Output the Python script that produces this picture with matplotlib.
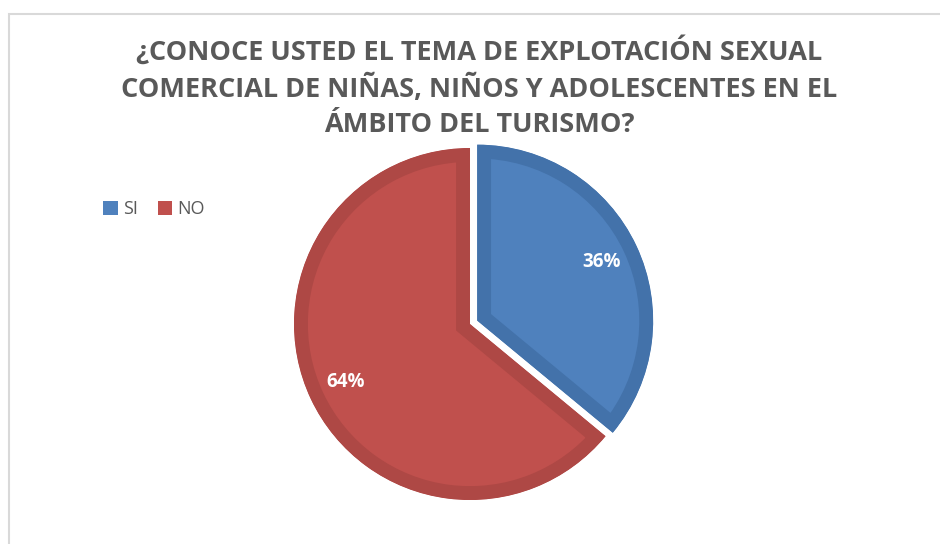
import matplotlib
matplotlib.use("Agg")
import matplotlib.pyplot as plt
from matplotlib.patches import Rectangle

categories = ["SI", "NO"]
values = [36, 64]
colors = ["#4F81BD", "#C0504D"]
edge_colors = ["#4372AA", "#AE4845"]
title = "¿CONOCE USTED EL TEMA DE EXPLOTACIÓN SEXUAL\nCOMERCIAL DE NIÑAS, NIÑOS Y ADOLESCENTES EN EL\nÁMBITO DEL TURISMO?"

W, H = 940, 544
fig = plt.figure(figsize=(W / 100, H / 100), dpi=100)
fig.patch.set_facecolor("white")

# chart border
fig.patches.append(Rectangle((8.5 / W, -0.1), 1.2, (H - 14) / H + 0.1, transform=fig.transFigure,
                             fill=False, edgecolor="#D9D9D9", linewidth=1.5))

ax = fig.add_axes([0, 0, 1, 1])
cx, cy, r = 470, H - 324, 176
wedges, texts, autotexts = ax.pie(
    values, colors=colors, startangle=90, counterclock=False,
    explode=[0.045 * r, 0], center=(cx, cy), radius=r,
    autopct=lambda p: f"{p:.0f}%", pctdistance=0.78,
    textprops=dict(color="white", fontsize=13.5, fontweight="bold", family="Open Sans"),
)
for w, ec in zip(wedges, edge_colors):
    w.set_edgecolor(ec)
    w.set_linewidth(20)
    w.set_joinstyle("miter")
    w.set_clip_on(True)
    w.set_clip_path(w)
ax.set_xlim(0, W)
ax.set_ylim(0, H)
ax.set_aspect("equal")
ax.axis("off")

fig.text(479 / W, 1 - 36 / H, title, ha="center", va="top", fontsize=19.5, fontweight="bold",
         family="Open Sans", color="#595959", linespacing=1.42)

leg = fig.legend(wedges, categories, loc="center left", bbox_to_anchor=(87 / W, 1 - 209 / H),
                 ncol=2, frameon=False, handlelength=0.8, handleheight=0.8, handletextpad=0.3,
                 columnspacing=1.1, prop=dict(family="Open Sans", size=13))
for t in leg.get_texts():
    t.set_color("#595959")
for h in leg.legend_handles:
    h.set_linewidth(0)
    h.set_clip_path(None)

fig.savefig("out.png", dpi=100, facecolor="white")
